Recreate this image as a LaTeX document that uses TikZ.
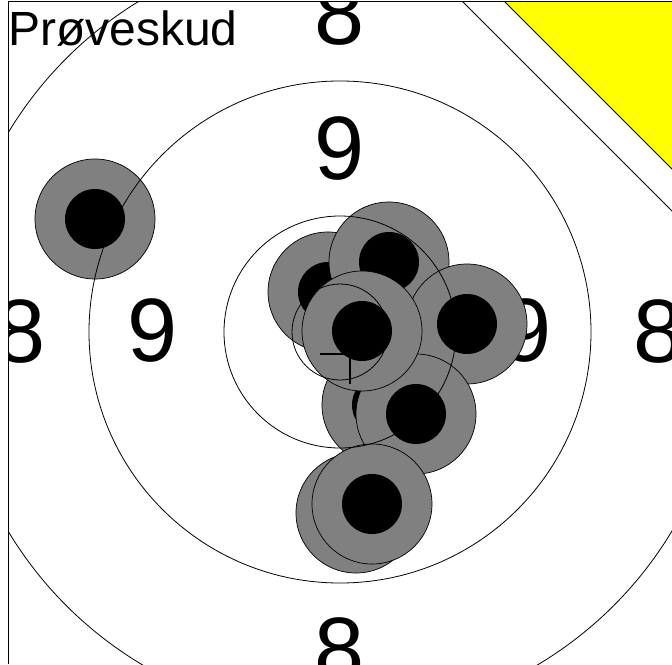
\documentclass[tikz,border=0pt]{standalone}
\usepackage{fontspec}
\setmainfont{Liberation Sans}
\usepackage{tikz}
\usetikzlibrary{positioning}
\definecolor{shotgray}{RGB}{128,128,128}
\definecolor{corneryellow}{RGB}{255,255,0}

\begin{document}
\begin{tikzpicture}[
        x=1pt, y=-1pt,
        ringline/.style={draw=black, line width=0.8pt},
        shotring/.style={fill=shotgray, draw=black, line width=0.7pt},
        shotcore/.style={fill=black},
        score/.style={inner sep=0pt, font=\fontsize{90}{90}\selectfont},
        title/.style={anchor=base west, inner sep=0pt, font=\fontsize{48}{48}\selectfont},
        crossline/.style={draw=black, line width=2.5pt}
    ]

    \useasboundingbox (0,0) rectangle (672,664);
    \coordinate (centre) at (340,332);

    \begin{scope}
    \clip (8,1.5) rectangle (672,664);

    % ring numbers
    \node[score] (eighttop) at (340,14) {8};
    \node[score] (eightleft) at (21,332) {8};
    \node[score] (eightright) at (659,332) {8};
    \node[score] (eightbottom) at (340,650) {8};
    \node[score] (ninetop) at (340,149) {9};
    \node[score] (nineleft) at (153,331) {9};
    \node[score] (nineright) at (527,331) {9};
    \node[title] (sighter) at (8,45) {Prøveskud};

    % shots
    \foreach \sx/\sy in {95/219, 328/292, 389/262, 467/324, 382/405, 416/414, 362/331, 356/513, 372/504} {
        \filldraw[shotring] (\sx,\sy) circle[radius=60];
        \fill[shotcore] (\sx,\sy) circle[radius=30];
    }

    % target rings
    \foreach \r in {48,116,251,387}
        \draw[ringline] (centre) circle[radius=\r];

    % mean point of impact
    \coordinate (mpi) at (350,354);
    \draw[crossline] ([xshift=-30pt]mpi) -- ([xshift=30pt]mpi);
    \draw[crossline] ([yshift=30pt]mpi) -- ([yshift=-30pt]mpi);

    % corner
    \fill[white] (462.5,1.5) -- (700,239) -- (700,1.5) -- cycle;
    \draw[ringline] (462.5,1.5) -- (700,239);
    \fill[corneryellow] (504.5,1.5) -- (700,197) -- (700,1.5) -- cycle;
    \draw[ringline] (504.5,1.5) -- (700,197);
    \end{scope}

    % frame
    \draw[line width=1pt] (8,664) -- (8,1.5) -- (672,1.5);

    \end{tikzpicture}
\end{document}
